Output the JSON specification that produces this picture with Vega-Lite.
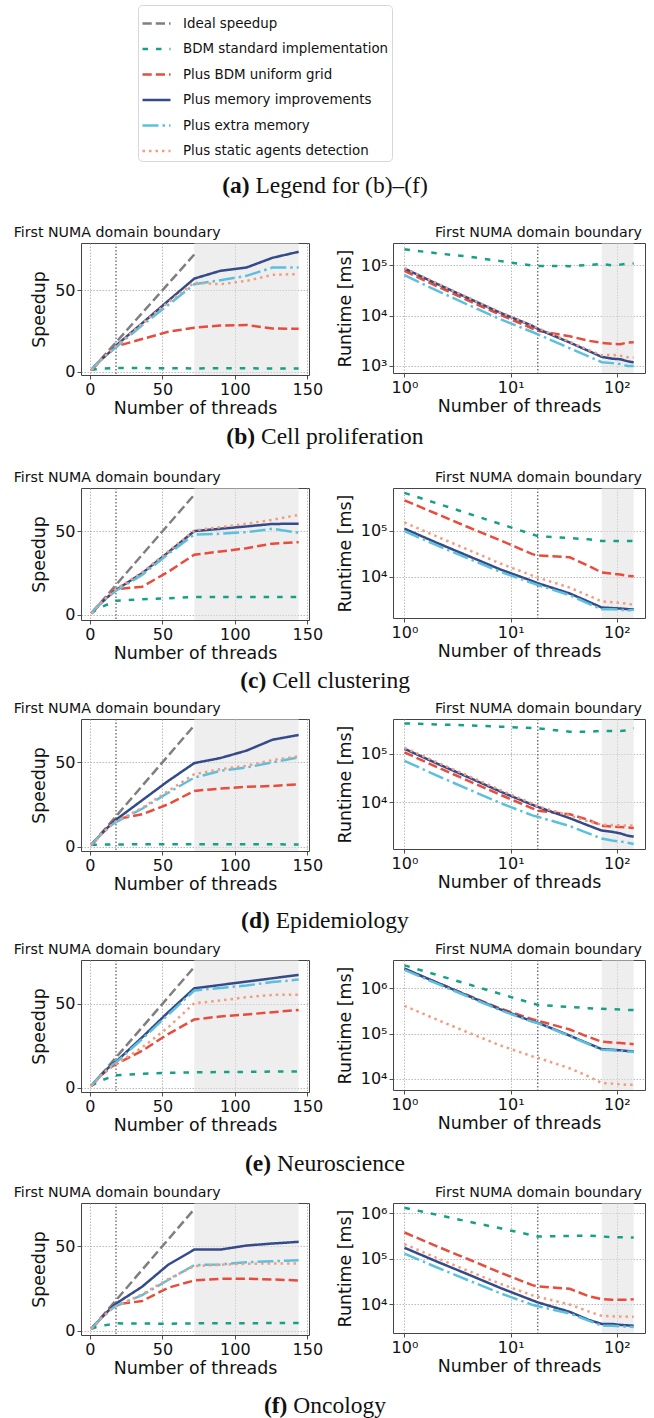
{
"$schema":"https://vega.github.io/schema/vega-lite/v6.json",
"padding":{"left":13,"top":0,"right":0,"bottom":0},
"config":{
 "font":"DejaVu Sans",
 "view":{"stroke":"#444","strokeWidth":1},
 "axis":{"labelFont":"DejaVu Sans","labelFontSize":16,"titleFont":"DejaVu Sans","titleFontSize":17.4,"titleFontWeight":"normal","labelColor":"#111","titleColor":"#111","tickColor":"#222","tickSize":4,"tickWidth":0.8,"domain":false,"grid":true,"gridColor":"#aaa","gridDash":[1.5,1.5],"gridWidth":0.8,"labelPadding":2,"titlePadding":2,"labelFlush":false,"labelOverlap":false},
 "axisY":{"titlePadding":6},
 "legend":{"labelFont":"DejaVu Sans","labelFontSize":13.4,"labelColor":"#111","padding":3,"rowPadding":3.5,"strokeColor":"#d8d8d8","fillColor":"white","cornerRadius":4,"labelOffset":11,"symbolStrokeWidth":2.5,"labelLimit":400},
 "title":{"font":"DejaVu Sans","fontSize":14.2,"fontWeight":"normal","offset":2,"color":"#111"}
},
"datasets":{"d":[
{"p":"all","s":"ideal","t":1,"sp":1},{"p":"all","s":"ideal","t":72,"sp":72},
{"p":"b","s":"std","t":1,"sp":1,"rt":210000},{"p":"b","s":"std","t":2,"sp":1.2,"rt":175000},{"p":"b","s":"std","t":4,"sp":1.4,"rt":150000},{"p":"b","s":"std","t":8,"sp":1.72,"rt":122000},{"p":"b","s":"std","t":16,"sp":2.1,"rt":100000},{"p":"b","s":"std","t":18,"sp":2.14,"rt":98000},{"p":"b","s":"std","t":36,"sp":2.16,"rt":97000},{"p":"b","s":"std","t":54,"sp":2.06,"rt":102000},{"p":"b","s":"std","t":72,"sp":1.94,"rt":108000},{"p":"b","s":"std","t":90,"sp":2.1,"rt":100000},{"p":"b","s":"std","t":108,"sp":2.02,"rt":104000},{"p":"b","s":"std","t":126,"sp":1.91,"rt":110000},{"p":"b","s":"std","t":144,"sp":1.91,"rt":110000},
{"p":"b","s":"grid","t":1,"sp":1,"rt":78000},{"p":"b","s":"grid","t":2,"sp":2,"rt":39000},{"p":"b","s":"grid","t":4,"sp":3.9,"rt":20000},{"p":"b","s":"grid","t":8,"sp":7.5,"rt":10400},{"p":"b","s":"grid","t":16,"sp":14,"rt":5570},{"p":"b","s":"grid","t":18,"sp":15.5,"rt":5030},{"p":"b","s":"grid","t":36,"sp":20,"rt":3900},{"p":"b","s":"grid","t":54,"sp":24.5,"rt":3180},{"p":"b","s":"grid","t":72,"sp":27,"rt":2890},{"p":"b","s":"grid","t":90,"sp":28.3,"rt":2760},{"p":"b","s":"grid","t":108,"sp":28.7,"rt":2720},{"p":"b","s":"grid","t":126,"sp":26.5,"rt":2940},{"p":"b","s":"grid","t":144,"sp":26.3,"rt":2970},
{"p":"b","s":"mem","t":1,"sp":1,"rt":87000},{"p":"b","s":"mem","t":2,"sp":2,"rt":43500},{"p":"b","s":"mem","t":4,"sp":3.9,"rt":22300},{"p":"b","s":"mem","t":8,"sp":7.6,"rt":11450},{"p":"b","s":"mem","t":16,"sp":13.8,"rt":6300},{"p":"b","s":"mem","t":18,"sp":16,"rt":5440},{"p":"b","s":"mem","t":36,"sp":29.7,"rt":2930},{"p":"b","s":"mem","t":54,"sp":43.5,"rt":2000},{"p":"b","s":"mem","t":72,"sp":57.2,"rt":1520},{"p":"b","s":"mem","t":90,"sp":62,"rt":1400},{"p":"b","s":"mem","t":108,"sp":64,"rt":1360},{"p":"b","s":"mem","t":126,"sp":70,"rt":1240},{"p":"b","s":"mem","t":144,"sp":73.7,"rt":1180},
{"p":"b","s":"extra","t":1,"sp":1,"rt":64000},{"p":"b","s":"extra","t":2,"sp":2,"rt":32000},{"p":"b","s":"extra","t":4,"sp":3.9,"rt":16400},{"p":"b","s":"extra","t":8,"sp":7.5,"rt":8530},{"p":"b","s":"extra","t":16,"sp":13.5,"rt":4740},{"p":"b","s":"extra","t":18,"sp":15,"rt":4270},{"p":"b","s":"extra","t":36,"sp":28.5,"rt":2250},{"p":"b","s":"extra","t":54,"sp":41,"rt":1560},{"p":"b","s":"extra","t":72,"sp":53.7,"rt":1190},{"p":"b","s":"extra","t":90,"sp":56.2,"rt":1140},{"p":"b","s":"extra","t":108,"sp":58.9,"rt":1090},{"p":"b","s":"extra","t":126,"sp":64,"rt":1000},{"p":"b","s":"extra","t":144,"sp":64,"rt":1000},
{"p":"b","s":"static","t":1,"sp":1,"rt":89000},{"p":"b","s":"static","t":2,"sp":2,"rt":44500},{"p":"b","s":"static","t":4,"sp":3.9,"rt":22800},{"p":"b","s":"static","t":8,"sp":7.6,"rt":11700},{"p":"b","s":"static","t":16,"sp":14,"rt":6360},{"p":"b","s":"static","t":18,"sp":15.6,"rt":5700},{"p":"b","s":"static","t":36,"sp":29.5,"rt":3020},{"p":"b","s":"static","t":54,"sp":42.5,"rt":2090},{"p":"b","s":"static","t":72,"sp":54.7,"rt":1630},{"p":"b","s":"static","t":90,"sp":53.7,"rt":1660},{"p":"b","s":"static","t":108,"sp":55.8,"rt":1590},{"p":"b","s":"static","t":126,"sp":59.5,"rt":1500},{"p":"b","s":"static","t":144,"sp":60,"rt":1480},
{"p":"c","s":"std","t":1,"sp":1,"rt":650000},{"p":"c","s":"std","t":2,"sp":1.67,"rt":390000},{"p":"c","s":"std","t":4,"sp":2.8,"rt":232000},{"p":"c","s":"std","t":8,"sp":4.7,"rt":139000},{"p":"c","s":"std","t":16,"sp":7.8,"rt":83000},{"p":"c","s":"std","t":18,"sp":8.55,"rt":76000},{"p":"c","s":"std","t":36,"sp":9.4,"rt":69000},{"p":"c","s":"std","t":54,"sp":10,"rt":65000},{"p":"c","s":"std","t":72,"sp":10.8,"rt":60000},{"p":"c","s":"std","t":90,"sp":10.8,"rt":60000},{"p":"c","s":"std","t":108,"sp":10.8,"rt":60000},{"p":"c","s":"std","t":126,"sp":10.8,"rt":60000},{"p":"c","s":"std","t":144,"sp":10.8,"rt":60000},
{"p":"c","s":"grid","t":1,"sp":1,"rt":450000},{"p":"c","s":"grid","t":2,"sp":1.95,"rt":231000},{"p":"c","s":"grid","t":4,"sp":3.8,"rt":118000},{"p":"c","s":"grid","t":8,"sp":7.3,"rt":61600},{"p":"c","s":"grid","t":16,"sp":14.5,"rt":31000},{"p":"c","s":"grid","t":18,"sp":15.5,"rt":29000},{"p":"c","s":"grid","t":36,"sp":16.9,"rt":26600},{"p":"c","s":"grid","t":54,"sp":25.8,"rt":17400},{"p":"c","s":"grid","t":72,"sp":36.1,"rt":12500},{"p":"c","s":"grid","t":90,"sp":38,"rt":11800},{"p":"c","s":"grid","t":108,"sp":40,"rt":11250},{"p":"c","s":"grid","t":126,"sp":42.7,"rt":10500},{"p":"c","s":"grid","t":144,"sp":43.6,"rt":10300},
{"p":"c","s":"mem","t":1,"sp":1,"rt":110000},{"p":"c","s":"mem","t":2,"sp":2,"rt":55000},{"p":"c","s":"mem","t":4,"sp":3.9,"rt":28200},{"p":"c","s":"mem","t":8,"sp":7.6,"rt":14500},{"p":"c","s":"mem","t":16,"sp":13.5,"rt":8150},{"p":"c","s":"mem","t":18,"sp":15,"rt":7330},{"p":"c","s":"mem","t":36,"sp":25,"rt":4400},{"p":"c","s":"mem","t":54,"sp":37.5,"rt":2930},{"p":"c","s":"mem","t":72,"sp":50.2,"rt":2190},{"p":"c","s":"mem","t":90,"sp":51.6,"rt":2130},{"p":"c","s":"mem","t":108,"sp":53,"rt":2080},{"p":"c","s":"mem","t":126,"sp":54.5,"rt":2020},{"p":"c","s":"mem","t":144,"sp":54.6,"rt":2010},
{"p":"c","s":"extra","t":1,"sp":1,"rt":97000},{"p":"c","s":"extra","t":2,"sp":2,"rt":48500},{"p":"c","s":"extra","t":4,"sp":3.9,"rt":24900},{"p":"c","s":"extra","t":8,"sp":7.5,"rt":12900},{"p":"c","s":"extra","t":16,"sp":13.2,"rt":7350},{"p":"c","s":"extra","t":18,"sp":14.5,"rt":6690},{"p":"c","s":"extra","t":36,"sp":24,"rt":4040},{"p":"c","s":"extra","t":54,"sp":36.5,"rt":2660},{"p":"c","s":"extra","t":72,"sp":48.2,"rt":2010},{"p":"c","s":"extra","t":90,"sp":48.6,"rt":2000},{"p":"c","s":"extra","t":108,"sp":49.6,"rt":1960},{"p":"c","s":"extra","t":126,"sp":51.6,"rt":1880},{"p":"c","s":"extra","t":144,"sp":49.2,"rt":1970},
{"p":"c","s":"static","t":1,"sp":1,"rt":150000},{"p":"c","s":"static","t":2,"sp":2,"rt":75000},{"p":"c","s":"static","t":4,"sp":3.9,"rt":38500},{"p":"c","s":"static","t":8,"sp":7.7,"rt":19500},{"p":"c","s":"static","t":16,"sp":14,"rt":10700},{"p":"c","s":"static","t":18,"sp":15.5,"rt":9680},{"p":"c","s":"static","t":36,"sp":25.5,"rt":5880},{"p":"c","s":"static","t":54,"sp":38,"rt":3950},{"p":"c","s":"static","t":72,"sp":50.6,"rt":2960},{"p":"c","s":"static","t":90,"sp":52.6,"rt":2850},{"p":"c","s":"static","t":108,"sp":54.6,"rt":2750},{"p":"c","s":"static","t":126,"sp":57,"rt":2630},{"p":"c","s":"static","t":144,"sp":59.9,"rt":2500},
{"p":"d","s":"std","t":1,"sp":1,"rt":430000},{"p":"d","s":"std","t":2,"sp":1.05,"rt":410000},{"p":"d","s":"std","t":4,"sp":1.1,"rt":390000},{"p":"d","s":"std","t":8,"sp":1.17,"rt":368000},{"p":"d","s":"std","t":16,"sp":1.25,"rt":344000},{"p":"d","s":"std","t":18,"sp":1.27,"rt":339000},{"p":"d","s":"std","t":36,"sp":1.48,"rt":290000},{"p":"d","s":"std","t":54,"sp":1.48,"rt":290000},{"p":"d","s":"std","t":72,"sp":1.43,"rt":300000},{"p":"d","s":"std","t":90,"sp":1.43,"rt":300000},{"p":"d","s":"std","t":108,"sp":1.43,"rt":300000},{"p":"d","s":"std","t":126,"sp":1.4,"rt":307000},{"p":"d","s":"std","t":144,"sp":1.26,"rt":340000},
{"p":"d","s":"grid","t":1,"sp":1,"rt":108000},{"p":"d","s":"grid","t":2,"sp":2,"rt":54000},{"p":"d","s":"grid","t":4,"sp":3.9,"rt":27700},{"p":"d","s":"grid","t":8,"sp":7.6,"rt":14200},{"p":"d","s":"grid","t":16,"sp":14.5,"rt":7450},{"p":"d","s":"grid","t":18,"sp":16.3,"rt":6630},{"p":"d","s":"grid","t":36,"sp":19.2,"rt":5630},{"p":"d","s":"grid","t":54,"sp":25.2,"rt":4290},{"p":"d","s":"grid","t":72,"sp":33.1,"rt":3260},{"p":"d","s":"grid","t":90,"sp":34.5,"rt":3130},{"p":"d","s":"grid","t":108,"sp":35.5,"rt":3040},{"p":"d","s":"grid","t":126,"sp":36,"rt":3000},{"p":"d","s":"grid","t":144,"sp":37,"rt":2920},
{"p":"d","s":"mem","t":1,"sp":1,"rt":128000},{"p":"d","s":"mem","t":2,"sp":2,"rt":64000},{"p":"d","s":"mem","t":4,"sp":3.9,"rt":32800},{"p":"d","s":"mem","t":8,"sp":7.7,"rt":16600},{"p":"d","s":"mem","t":16,"sp":14.5,"rt":8830},{"p":"d","s":"mem","t":18,"sp":16,"rt":8000},{"p":"d","s":"mem","t":36,"sp":27.5,"rt":4650},{"p":"d","s":"mem","t":54,"sp":39,"rt":3280},{"p":"d","s":"mem","t":72,"sp":49.6,"rt":2580},{"p":"d","s":"mem","t":90,"sp":52.6,"rt":2430},{"p":"d","s":"mem","t":108,"sp":57,"rt":2250},{"p":"d","s":"mem","t":126,"sp":63.5,"rt":2020},{"p":"d","s":"mem","t":144,"sp":66.3,"rt":1930},
{"p":"d","s":"extra","t":1,"sp":1,"rt":72000},{"p":"d","s":"extra","t":2,"sp":2,"rt":36000},{"p":"d","s":"extra","t":4,"sp":3.9,"rt":18500},{"p":"d","s":"extra","t":8,"sp":7.5,"rt":9600},{"p":"d","s":"extra","t":16,"sp":13.5,"rt":5330},{"p":"d","s":"extra","t":18,"sp":14.5,"rt":4970},{"p":"d","s":"extra","t":36,"sp":22.5,"rt":3200},{"p":"d","s":"extra","t":54,"sp":32,"rt":2250},{"p":"d","s":"extra","t":72,"sp":41,"rt":1760},{"p":"d","s":"extra","t":90,"sp":45,"rt":1600},{"p":"d","s":"extra","t":108,"sp":47,"rt":1530},{"p":"d","s":"extra","t":126,"sp":50,"rt":1440},{"p":"d","s":"extra","t":144,"sp":53,"rt":1360},
{"p":"d","s":"static","t":1,"sp":1,"rt":134000},{"p":"d","s":"static","t":2,"sp":2,"rt":68000},{"p":"d","s":"static","t":4,"sp":3.9,"rt":35000},{"p":"d","s":"static","t":8,"sp":7.6,"rt":17800},{"p":"d","s":"static","t":16,"sp":13.8,"rt":9300},{"p":"d","s":"static","t":18,"sp":15,"rt":8200},{"p":"d","s":"static","t":36,"sp":23,"rt":5300},{"p":"d","s":"static","t":54,"sp":33,"rt":4000},{"p":"d","s":"static","t":72,"sp":43,"rt":3400},{"p":"d","s":"static","t":90,"sp":46,"rt":3350},{"p":"d","s":"static","t":108,"sp":48,"rt":3300},{"p":"d","s":"static","t":126,"sp":51.4,"rt":3300},{"p":"d","s":"static","t":144,"sp":53.6,"rt":3300},
{"p":"e","s":"std","t":1,"sp":1,"rt":3200000},{"p":"e","s":"std","t":2,"sp":1.62,"rt":1980000},{"p":"e","s":"std","t":4,"sp":2.6,"rt":1220000},{"p":"e","s":"std","t":8,"sp":4.3,"rt":750000},{"p":"e","s":"std","t":16,"sp":6.9,"rt":466000},{"p":"e","s":"std","t":18,"sp":7.4,"rt":430000},{"p":"e","s":"std","t":36,"sp":8.3,"rt":386000},{"p":"e","s":"std","t":54,"sp":8.8,"rt":364000},{"p":"e","s":"std","t":72,"sp":9.1,"rt":352000},{"p":"e","s":"std","t":90,"sp":9.3,"rt":344000},{"p":"e","s":"std","t":108,"sp":9.4,"rt":340000},{"p":"e","s":"std","t":126,"sp":9.6,"rt":333000},{"p":"e","s":"std","t":144,"sp":9.7,"rt":330000},
{"p":"e","s":"grid","t":1,"sp":1,"rt":2700000},{"p":"e","s":"grid","t":2,"sp":2,"rt":1350000},{"p":"e","s":"grid","t":4,"sp":3.9,"rt":692000},{"p":"e","s":"grid","t":8,"sp":7.6,"rt":355000},{"p":"e","s":"grid","t":16,"sp":13,"rt":208000},{"p":"e","s":"grid","t":18,"sp":14,"rt":193000},{"p":"e","s":"grid","t":36,"sp":22,"rt":123000},{"p":"e","s":"grid","t":54,"sp":32,"rt":84400},{"p":"e","s":"grid","t":72,"sp":40.7,"rt":66300},{"p":"e","s":"grid","t":90,"sp":42.5,"rt":63500},{"p":"e","s":"grid","t":108,"sp":43.7,"rt":61800},{"p":"e","s":"grid","t":126,"sp":45,"rt":60000},{"p":"e","s":"grid","t":144,"sp":46.4,"rt":58200},
{"p":"e","s":"mem","t":1,"sp":1,"rt":2700000},{"p":"e","s":"mem","t":2,"sp":2,"rt":1350000},{"p":"e","s":"mem","t":4,"sp":4,"rt":675000},{"p":"e","s":"mem","t":8,"sp":7.9,"rt":342000},{"p":"e","s":"mem","t":16,"sp":14.5,"rt":186000},{"p":"e","s":"mem","t":18,"sp":15.5,"rt":174000},{"p":"e","s":"mem","t":36,"sp":30,"rt":90000},{"p":"e","s":"mem","t":54,"sp":45,"rt":60000},{"p":"e","s":"mem","t":72,"sp":59.3,"rt":45500},{"p":"e","s":"mem","t":90,"sp":61.3,"rt":44000},{"p":"e","s":"mem","t":108,"sp":63.3,"rt":42700},{"p":"e","s":"mem","t":126,"sp":65.3,"rt":41300},{"p":"e","s":"mem","t":144,"sp":67.3,"rt":40100},
{"p":"e","s":"extra","t":1,"sp":1,"rt":2550000},{"p":"e","s":"extra","t":2,"sp":2,"rt":1275000},{"p":"e","s":"extra","t":4,"sp":3.95,"rt":646000},{"p":"e","s":"extra","t":8,"sp":7.8,"rt":327000},{"p":"e","s":"extra","t":16,"sp":14,"rt":182000},{"p":"e","s":"extra","t":18,"sp":15,"rt":170000},{"p":"e","s":"extra","t":36,"sp":29,"rt":87900},{"p":"e","s":"extra","t":54,"sp":43.5,"rt":58600},{"p":"e","s":"extra","t":72,"sp":58,"rt":44000},{"p":"e","s":"extra","t":90,"sp":59.5,"rt":42900},{"p":"e","s":"extra","t":108,"sp":61,"rt":41800},{"p":"e","s":"extra","t":126,"sp":63,"rt":40500},{"p":"e","s":"extra","t":144,"sp":64.5,"rt":39500},
{"p":"e","s":"static","t":1,"sp":1,"rt":410000},{"p":"e","s":"static","t":2,"sp":2,"rt":205000},{"p":"e","s":"static","t":4,"sp":3.9,"rt":105000},{"p":"e","s":"static","t":8,"sp":7.5,"rt":54700},{"p":"e","s":"static","t":16,"sp":13,"rt":31500},{"p":"e","s":"static","t":18,"sp":14,"rt":29300},{"p":"e","s":"static","t":36,"sp":24,"rt":17100},{"p":"e","s":"static","t":54,"sp":36,"rt":11400},{"p":"e","s":"static","t":72,"sp":50.4,"rt":8130},{"p":"e","s":"static","t":90,"sp":52,"rt":7880},{"p":"e","s":"static","t":108,"sp":54,"rt":7590},{"p":"e","s":"static","t":126,"sp":55.4,"rt":7400},{"p":"e","s":"static","t":144,"sp":55.4,"rt":7400},
{"p":"f","s":"std","t":1,"sp":1,"rt":1330000},{"p":"f","s":"std","t":2,"sp":1.41,"rt":940000},{"p":"f","s":"std","t":4,"sp":2,"rt":660000},{"p":"f","s":"std","t":8,"sp":2.8,"rt":470000},{"p":"f","s":"std","t":16,"sp":4,"rt":330000},{"p":"f","s":"std","t":18,"sp":4.3,"rt":310000},{"p":"f","s":"std","t":36,"sp":4.2,"rt":318000},{"p":"f","s":"std","t":54,"sp":4.1,"rt":325000},{"p":"f","s":"std","t":72,"sp":4.3,"rt":310000},{"p":"f","s":"std","t":90,"sp":4.4,"rt":300000},{"p":"f","s":"std","t":108,"sp":4.4,"rt":300000},{"p":"f","s":"std","t":126,"sp":4.45,"rt":298000},{"p":"f","s":"std","t":144,"sp":4.5,"rt":295000},
{"p":"f","s":"grid","t":1,"sp":1,"rt":380000},{"p":"f","s":"grid","t":2,"sp":2,"rt":190000},{"p":"f","s":"grid","t":4,"sp":3.9,"rt":97400},{"p":"f","s":"grid","t":8,"sp":7.7,"rt":49400},{"p":"f","s":"grid","t":16,"sp":14.5,"rt":26200},{"p":"f","s":"grid","t":18,"sp":15.5,"rt":24500},{"p":"f","s":"grid","t":36,"sp":17.5,"rt":21700},{"p":"f","s":"grid","t":54,"sp":25.4,"rt":15000},{"p":"f","s":"grid","t":72,"sp":29.7,"rt":12800},{"p":"f","s":"grid","t":90,"sp":30.7,"rt":12400},{"p":"f","s":"grid","t":108,"sp":30.7,"rt":12400},{"p":"f","s":"grid","t":126,"sp":30.3,"rt":12500},{"p":"f","s":"grid","t":144,"sp":29.7,"rt":12800},
{"p":"f","s":"mem","t":1,"sp":1,"rt":175000},{"p":"f","s":"mem","t":2,"sp":2,"rt":87500},{"p":"f","s":"mem","t":4,"sp":3.9,"rt":44900},{"p":"f","s":"mem","t":8,"sp":7.7,"rt":22700},{"p":"f","s":"mem","t":16,"sp":14.5,"rt":12100},{"p":"f","s":"mem","t":18,"sp":16,"rt":10900},{"p":"f","s":"mem","t":36,"sp":26,"rt":6730},{"p":"f","s":"mem","t":54,"sp":39,"rt":4490},{"p":"f","s":"mem","t":72,"sp":48,"rt":3650},{"p":"f","s":"mem","t":90,"sp":48,"rt":3650},{"p":"f","s":"mem","t":108,"sp":50.4,"rt":3470},{"p":"f","s":"mem","t":126,"sp":51.6,"rt":3390},{"p":"f","s":"mem","t":144,"sp":52.6,"rt":3330},
{"p":"f","s":"extra","t":1,"sp":1,"rt":130000},{"p":"f","s":"extra","t":2,"sp":2,"rt":65000},{"p":"f","s":"extra","t":4,"sp":3.9,"rt":33300},{"p":"f","s":"extra","t":8,"sp":7.5,"rt":17300},{"p":"f","s":"extra","t":16,"sp":13.5,"rt":9630},{"p":"f","s":"extra","t":18,"sp":14.5,"rt":8970},{"p":"f","s":"extra","t":36,"sp":21,"rt":6190},{"p":"f","s":"extra","t":54,"sp":30,"rt":4330},{"p":"f","s":"extra","t":72,"sp":38.8,"rt":3350},{"p":"f","s":"extra","t":90,"sp":39.2,"rt":3320},{"p":"f","s":"extra","t":108,"sp":40.5,"rt":3210},{"p":"f","s":"extra","t":126,"sp":41.1,"rt":3160},{"p":"f","s":"extra","t":144,"sp":41.7,"rt":3120},
{"p":"f","s":"static","t":1,"sp":1,"rt":210000},{"p":"f","s":"static","t":2,"sp":2,"rt":105000},{"p":"f","s":"static","t":4,"sp":3.9,"rt":53800},{"p":"f","s":"static","t":8,"sp":7.5,"rt":28000},{"p":"f","s":"static","t":16,"sp":13.5,"rt":15600},{"p":"f","s":"static","t":18,"sp":14.5,"rt":14500},{"p":"f","s":"static","t":36,"sp":21.5,"rt":9770},{"p":"f","s":"static","t":54,"sp":30.5,"rt":6890},{"p":"f","s":"static","t":72,"sp":38.2,"rt":5500},{"p":"f","s":"static","t":90,"sp":39,"rt":5380},{"p":"f","s":"static","t":108,"sp":39.6,"rt":5300},{"p":"f","s":"static","t":126,"sp":39.8,"rt":5280},{"p":"f","s":"static","t":144,"sp":39.8,"rt":5280}
]},
"vconcat":[
 {"width":540,"height":225,"view":{"stroke":null},"data":{"values":[{}]},"layer":[
  {"mark":{"type":"text","text":"(a)","x":168.6,"y":186,"align":"right","baseline":"middle","font":"Liberation Serif","fontSize":23.5,"fontWeight":"bold","color":"#111"},"encoding":{}},
  {"mark":{"type":"text","text":"Legend for (b)–(f)","x":174.5,"y":186,"align":"left","baseline":"middle","font":"Liberation Serif","fontSize":23.5,"color":"#111"},"encoding":{}}
 ]},
 {"hconcat":[
  {"width":228,"height":132,"title":{"text":"First NUMA domain boundary","anchor":"start","dx":-17},"layer":[
   {"data":{"values":[{"a":72,"b":144}]},"mark":{"type":"rect","fill":"#e0e0e0","opacity":0.55},"encoding":{"x":{"field":"a","type":"quantitative","scale":{"domain":[-6.15,151.15],"nice":false,"zero":false},"axis":{"title":"Number of threads","values":[0,50,100,150]}},"x2":{"field":"b"}}},
   {"data":{"values":[{"a":18}]},"mark":{"type":"rule","stroke":"#555","strokeDash":[1.5,2],"strokeWidth":1.2},"encoding":{"x":{"field":"a","type":"quantitative","scale":{"domain":[-6.15,151.15],"nice":false,"zero":false},"axis":{"title":"Number of threads","values":[0,50,100,150]}}}},
   {"data":{"name":"d"},"transform":[{"filter":"datum.p=='b'||datum.p=='all'"}],"mark":{"type":"line","strokeWidth":2.5,"clip":true},"encoding":{
    "x":{"field":"t","type":"quantitative","scale":{"domain":[-6.15,151.15],"nice":false,"zero":false},"axis":{"title":"Number of threads","values":[0,50,100,150]}},
    "y":{"field":"sp","type":"quantitative","scale":{"domain":[-2.1,79.1],"nice":false,"zero":false},"axis":{"title":"Speedup","values":[0,50]}},
    "color":{"field":"s","type":"nominal","scale":{"domain":["ideal","std","grid","mem","extra","static"],"range":["#7f7f7f","#16a085","#e74c3c","#354a88","#5bc0de","#f39c7f"]},"legend":{"orient":"none","legendX":57,"legendY":5,"title":null,"symbolType":"stroke","symbolSize":784,"symbolStrokeWidth":2.5,"labelExpr":"datum.label=='ideal'?'Ideal speedup':datum.label=='std'?'BDM standard implementation':datum.label=='grid'?'Plus BDM uniform grid':datum.label=='mem'?'Plus memory improvements':datum.label=='extra'?'Plus extra memory':'Plus static agents detection'"}},
    "strokeDash":{"field":"s","type":"nominal","scale":{"domain":["ideal","std","grid","mem","extra","static"],"range":[[9.25,4],[5.5,8],[9.25,4],[1,0],[16,4,2.5,4],[2.5,4]]},"legend":{"orient":"none","legendX":57,"legendY":5,"title":null,"symbolType":"stroke","symbolSize":784,"symbolStrokeWidth":2.5,"labelExpr":"datum.label=='ideal'?'Ideal speedup':datum.label=='std'?'BDM standard implementation':datum.label=='grid'?'Plus BDM uniform grid':datum.label=='mem'?'Plus memory improvements':datum.label=='extra'?'Plus extra memory':'Plus static agents detection'"}}
   }}
  ]},
  {"width":252,"height":130,"title":{"text":"First NUMA domain boundary","anchor":"end","dx":-3},"layer":[
   {"data":{"values":[{"a":72,"b":144}]},"mark":{"type":"rect","fill":"#e0e0e0","opacity":0.55},"encoding":{"x":{"field":"a","type":"quantitative","scale":{"type":"log","domain":[0.78,184],"nice":false},"axis":{"title":"Number of threads","values":[1,10,100],"labelExpr":"'10' + (datum.value < 5 ? '⁰' : datum.value < 50 ? '¹' : '²')"}},"x2":{"field":"b"}}},
   {"data":{"values":[{"a":18}]},"mark":{"type":"rule","stroke":"#555","strokeDash":[1.5,2],"strokeWidth":1.2},"encoding":{"x":{"field":"a","type":"quantitative","scale":{"type":"log","domain":[0.78,184],"nice":false},"axis":{"title":"Number of threads","values":[1,10,100],"labelExpr":"'10' + (datum.value < 5 ? '⁰' : datum.value < 50 ? '¹' : '²')"}}}},
   {"data":{"name":"d"},"transform":[{"filter":"datum.p=='b'"}],"mark":{"type":"line","strokeWidth":2.5,"clip":true},"encoding":{
    "x":{"field":"t","type":"quantitative","scale":{"type":"log","domain":[0.78,184],"nice":false},"axis":{"title":"Number of threads","values":[1,10,100],"labelExpr":"'10' + (datum.value < 5 ? '⁰' : datum.value < 50 ? '¹' : '²')"}},
    "y":{"field":"rt","type":"quantitative","scale":{"type":"log","domain":[725,280000],"nice":false},"axis":{"title":"Runtime [ms]","values":[1000,10000,100000],"labelExpr":"'10' + (datum.value < 5000 ? '³' : datum.value < 50000 ? '⁴' : datum.value < 500000 ? '⁵' : '⁶')"}},
    "color":{"field":"s","type":"nominal","scale":{"domain":["ideal","std","grid","mem","extra","static"],"range":["#7f7f7f","#16a085","#e74c3c","#354a88","#5bc0de","#f39c7f"]},"legend":{"orient":"none","legendX":57,"legendY":5,"title":null,"symbolType":"stroke","symbolSize":784,"symbolStrokeWidth":2.5,"labelExpr":"datum.label=='ideal'?'Ideal speedup':datum.label=='std'?'BDM standard implementation':datum.label=='grid'?'Plus BDM uniform grid':datum.label=='mem'?'Plus memory improvements':datum.label=='extra'?'Plus extra memory':'Plus static agents detection'"}},
    "strokeDash":{"field":"s","type":"nominal","scale":{"domain":["ideal","std","grid","mem","extra","static"],"range":[[9.25,4],[5.5,8],[9.25,4],[1,0],[16,4,2.5,4],[2.5,4]]},"legend":{"orient":"none","legendX":57,"legendY":5,"title":null,"symbolType":"stroke","symbolSize":784,"symbolStrokeWidth":2.5,"labelExpr":"datum.label=='ideal'?'Ideal speedup':datum.label=='std'?'BDM standard implementation':datum.label=='grid'?'Plus BDM uniform grid':datum.label=='mem'?'Plus memory improvements':datum.label=='extra'?'Plus extra memory':'Plus static agents detection'"}}
   }}
  ]}
 ],"spacing":11},
 {"width":540,"height":53,"view":{"stroke":null},"data":{"values":[{}]},"layer":[
  {"mark":{"type":"text","text":"(b)","x":174.1,"y":20,"align":"right","baseline":"middle","font":"Liberation Serif","fontSize":23.5,"fontWeight":"bold","color":"#111"},"encoding":{}},
  {"mark":{"type":"text","text":"Cell proliferation","x":180,"y":20,"align":"left","baseline":"middle","font":"Liberation Serif","fontSize":23.5,"color":"#111"},"encoding":{}}
 ]},
 {"hconcat":[
  {"width":228,"height":132,"title":{"text":"First NUMA domain boundary","anchor":"start","dx":-17},"layer":[
   {"data":{"values":[{"a":72,"b":144}]},"mark":{"type":"rect","fill":"#e0e0e0","opacity":0.55},"encoding":{"x":{"field":"a","type":"quantitative","scale":{"domain":[-6.15,151.15],"nice":false,"zero":false},"axis":{"title":"Number of threads","values":[0,50,100,150]}},"x2":{"field":"b"}}},
   {"data":{"values":[{"a":18}]},"mark":{"type":"rule","stroke":"#555","strokeDash":[1.5,2],"strokeWidth":1.2},"encoding":{"x":{"field":"a","type":"quantitative","scale":{"domain":[-6.15,151.15],"nice":false,"zero":false},"axis":{"title":"Number of threads","values":[0,50,100,150]}}}},
   {"data":{"name":"d"},"transform":[{"filter":"datum.p=='c'||datum.p=='all'"}],"mark":{"type":"line","strokeWidth":2.5,"clip":true},"encoding":{
    "x":{"field":"t","type":"quantitative","scale":{"domain":[-6.15,151.15],"nice":false,"zero":false},"axis":{"title":"Number of threads","values":[0,50,100,150]}},
    "y":{"field":"sp","type":"quantitative","scale":{"domain":[-3,76],"nice":false,"zero":false},"axis":{"title":"Speedup","values":[0,50]}},
    "color":{"field":"s","type":"nominal","scale":{"domain":["ideal","std","grid","mem","extra","static"],"range":["#7f7f7f","#16a085","#e74c3c","#354a88","#5bc0de","#f39c7f"]},"legend":{"orient":"none","legendX":57,"legendY":5,"title":null,"symbolType":"stroke","symbolSize":784,"symbolStrokeWidth":2.5,"labelExpr":"datum.label=='ideal'?'Ideal speedup':datum.label=='std'?'BDM standard implementation':datum.label=='grid'?'Plus BDM uniform grid':datum.label=='mem'?'Plus memory improvements':datum.label=='extra'?'Plus extra memory':'Plus static agents detection'"}},
    "strokeDash":{"field":"s","type":"nominal","scale":{"domain":["ideal","std","grid","mem","extra","static"],"range":[[9.25,4],[5.5,8],[9.25,4],[1,0],[16,4,2.5,4],[2.5,4]]},"legend":{"orient":"none","legendX":57,"legendY":5,"title":null,"symbolType":"stroke","symbolSize":784,"symbolStrokeWidth":2.5,"labelExpr":"datum.label=='ideal'?'Ideal speedup':datum.label=='std'?'BDM standard implementation':datum.label=='grid'?'Plus BDM uniform grid':datum.label=='mem'?'Plus memory improvements':datum.label=='extra'?'Plus extra memory':'Plus static agents detection'"}}
   }}
  ]},
  {"width":252,"height":130,"title":{"text":"First NUMA domain boundary","anchor":"end","dx":-3},"layer":[
   {"data":{"values":[{"a":72,"b":144}]},"mark":{"type":"rect","fill":"#e0e0e0","opacity":0.55},"encoding":{"x":{"field":"a","type":"quantitative","scale":{"type":"log","domain":[0.78,184],"nice":false},"axis":{"title":"Number of threads","values":[1,10,100],"labelExpr":"'10' + (datum.value < 5 ? '⁰' : datum.value < 50 ? '¹' : '²')"}},"x2":{"field":"b"}}},
   {"data":{"values":[{"a":18}]},"mark":{"type":"rule","stroke":"#555","strokeDash":[1.5,2],"strokeWidth":1.2},"encoding":{"x":{"field":"a","type":"quantitative","scale":{"type":"log","domain":[0.78,184],"nice":false},"axis":{"title":"Number of threads","values":[1,10,100],"labelExpr":"'10' + (datum.value < 5 ? '⁰' : datum.value < 50 ? '¹' : '²')"}}}},
   {"data":{"name":"d"},"transform":[{"filter":"datum.p=='c'"}],"mark":{"type":"line","strokeWidth":2.5,"clip":true},"encoding":{
    "x":{"field":"t","type":"quantitative","scale":{"type":"log","domain":[0.78,184],"nice":false},"axis":{"title":"Number of threads","values":[1,10,100],"labelExpr":"'10' + (datum.value < 5 ? '⁰' : datum.value < 50 ? '¹' : '²')"}},
    "y":{"field":"rt","type":"quantitative","scale":{"type":"log","domain":[1300,830000],"nice":false},"axis":{"title":"Runtime [ms]","values":[10000,100000],"labelExpr":"'10' + (datum.value < 5000 ? '³' : datum.value < 50000 ? '⁴' : datum.value < 500000 ? '⁵' : '⁶')"}},
    "color":{"field":"s","type":"nominal","scale":{"domain":["ideal","std","grid","mem","extra","static"],"range":["#7f7f7f","#16a085","#e74c3c","#354a88","#5bc0de","#f39c7f"]},"legend":{"orient":"none","legendX":57,"legendY":5,"title":null,"symbolType":"stroke","symbolSize":784,"symbolStrokeWidth":2.5,"labelExpr":"datum.label=='ideal'?'Ideal speedup':datum.label=='std'?'BDM standard implementation':datum.label=='grid'?'Plus BDM uniform grid':datum.label=='mem'?'Plus memory improvements':datum.label=='extra'?'Plus extra memory':'Plus static agents detection'"}},
    "strokeDash":{"field":"s","type":"nominal","scale":{"domain":["ideal","std","grid","mem","extra","static"],"range":[[9.25,4],[5.5,8],[9.25,4],[1,0],[16,4,2.5,4],[2.5,4]]},"legend":{"orient":"none","legendX":57,"legendY":5,"title":null,"symbolType":"stroke","symbolSize":784,"symbolStrokeWidth":2.5,"labelExpr":"datum.label=='ideal'?'Ideal speedup':datum.label=='std'?'BDM standard implementation':datum.label=='grid'?'Plus BDM uniform grid':datum.label=='mem'?'Plus memory improvements':datum.label=='extra'?'Plus extra memory':'Plus static agents detection'"}}
   }}
  ]}
 ],"spacing":11},
 {"width":540,"height":39,"view":{"stroke":null},"data":{"values":[{}]},"layer":[
  {"mark":{"type":"text","text":"(c)","x":185.3,"y":19,"align":"right","baseline":"middle","font":"Liberation Serif","fontSize":23.5,"fontWeight":"bold","color":"#111"},"encoding":{}},
  {"mark":{"type":"text","text":"Cell clustering","x":191.2,"y":19,"align":"left","baseline":"middle","font":"Liberation Serif","fontSize":23.5,"color":"#111"},"encoding":{}}
 ]},
 {"hconcat":[
  {"width":228,"height":132,"title":{"text":"First NUMA domain boundary","anchor":"start","dx":-17},"layer":[
   {"data":{"values":[{"a":72,"b":144}]},"mark":{"type":"rect","fill":"#e0e0e0","opacity":0.55},"encoding":{"x":{"field":"a","type":"quantitative","scale":{"domain":[-6.15,151.15],"nice":false,"zero":false},"axis":{"title":"Number of threads","values":[0,50,100,150]}},"x2":{"field":"b"}}},
   {"data":{"values":[{"a":18}]},"mark":{"type":"rule","stroke":"#555","strokeDash":[1.5,2],"strokeWidth":1.2},"encoding":{"x":{"field":"a","type":"quantitative","scale":{"domain":[-6.15,151.15],"nice":false,"zero":false},"axis":{"title":"Number of threads","values":[0,50,100,150]}}}},
   {"data":{"name":"d"},"transform":[{"filter":"datum.p=='d'||datum.p=='all'"}],"mark":{"type":"line","strokeWidth":2.5,"clip":true},"encoding":{
    "x":{"field":"t","type":"quantitative","scale":{"domain":[-6.15,151.15],"nice":false,"zero":false},"axis":{"title":"Number of threads","values":[0,50,100,150]}},
    "y":{"field":"sp","type":"quantitative","scale":{"domain":[-2.6,75.8],"nice":false,"zero":false},"axis":{"title":"Speedup","values":[0,50]}},
    "color":{"field":"s","type":"nominal","scale":{"domain":["ideal","std","grid","mem","extra","static"],"range":["#7f7f7f","#16a085","#e74c3c","#354a88","#5bc0de","#f39c7f"]},"legend":{"orient":"none","legendX":57,"legendY":5,"title":null,"symbolType":"stroke","symbolSize":784,"symbolStrokeWidth":2.5,"labelExpr":"datum.label=='ideal'?'Ideal speedup':datum.label=='std'?'BDM standard implementation':datum.label=='grid'?'Plus BDM uniform grid':datum.label=='mem'?'Plus memory improvements':datum.label=='extra'?'Plus extra memory':'Plus static agents detection'"}},
    "strokeDash":{"field":"s","type":"nominal","scale":{"domain":["ideal","std","grid","mem","extra","static"],"range":[[9.25,4],[5.5,8],[9.25,4],[1,0],[16,4,2.5,4],[2.5,4]]},"legend":{"orient":"none","legendX":57,"legendY":5,"title":null,"symbolType":"stroke","symbolSize":784,"symbolStrokeWidth":2.5,"labelExpr":"datum.label=='ideal'?'Ideal speedup':datum.label=='std'?'BDM standard implementation':datum.label=='grid'?'Plus BDM uniform grid':datum.label=='mem'?'Plus memory improvements':datum.label=='extra'?'Plus extra memory':'Plus static agents detection'"}}
   }}
  ]},
  {"width":252,"height":130,"title":{"text":"First NUMA domain boundary","anchor":"end","dx":-3},"layer":[
   {"data":{"values":[{"a":72,"b":144}]},"mark":{"type":"rect","fill":"#e0e0e0","opacity":0.55},"encoding":{"x":{"field":"a","type":"quantitative","scale":{"type":"log","domain":[0.78,184],"nice":false},"axis":{"title":"Number of threads","values":[1,10,100],"labelExpr":"'10' + (datum.value < 5 ? '⁰' : datum.value < 50 ? '¹' : '²')"}},"x2":{"field":"b"}}},
   {"data":{"values":[{"a":18}]},"mark":{"type":"rule","stroke":"#555","strokeDash":[1.5,2],"strokeWidth":1.2},"encoding":{"x":{"field":"a","type":"quantitative","scale":{"type":"log","domain":[0.78,184],"nice":false},"axis":{"title":"Number of threads","values":[1,10,100],"labelExpr":"'10' + (datum.value < 5 ? '⁰' : datum.value < 50 ? '¹' : '²')"}}}},
   {"data":{"name":"d"},"transform":[{"filter":"datum.p=='d'"}],"mark":{"type":"line","strokeWidth":2.5,"clip":true},"encoding":{
    "x":{"field":"t","type":"quantitative","scale":{"type":"log","domain":[0.78,184],"nice":false},"axis":{"title":"Number of threads","values":[1,10,100],"labelExpr":"'10' + (datum.value < 5 ? '⁰' : datum.value < 50 ? '¹' : '²')"}},
    "y":{"field":"rt","type":"quantitative","scale":{"type":"log","domain":[1070,530000],"nice":false},"axis":{"title":"Runtime [ms]","values":[10000,100000],"labelExpr":"'10' + (datum.value < 5000 ? '³' : datum.value < 50000 ? '⁴' : datum.value < 500000 ? '⁵' : '⁶')"}},
    "color":{"field":"s","type":"nominal","scale":{"domain":["ideal","std","grid","mem","extra","static"],"range":["#7f7f7f","#16a085","#e74c3c","#354a88","#5bc0de","#f39c7f"]},"legend":{"orient":"none","legendX":57,"legendY":5,"title":null,"symbolType":"stroke","symbolSize":784,"symbolStrokeWidth":2.5,"labelExpr":"datum.label=='ideal'?'Ideal speedup':datum.label=='std'?'BDM standard implementation':datum.label=='grid'?'Plus BDM uniform grid':datum.label=='mem'?'Plus memory improvements':datum.label=='extra'?'Plus extra memory':'Plus static agents detection'"}},
    "strokeDash":{"field":"s","type":"nominal","scale":{"domain":["ideal","std","grid","mem","extra","static"],"range":[[9.25,4],[5.5,8],[9.25,4],[1,0],[16,4,2.5,4],[2.5,4]]},"legend":{"orient":"none","legendX":57,"legendY":5,"title":null,"symbolType":"stroke","symbolSize":784,"symbolStrokeWidth":2.5,"labelExpr":"datum.label=='ideal'?'Ideal speedup':datum.label=='std'?'BDM standard implementation':datum.label=='grid'?'Plus BDM uniform grid':datum.label=='mem'?'Plus memory improvements':datum.label=='extra'?'Plus extra memory':'Plus static agents detection'"}}
   }}
  ]}
 ],"spacing":11},
 {"width":540,"height":49,"view":{"stroke":null},"data":{"values":[{}]},"layer":[
  {"mark":{"type":"text","text":"(d)","x":188.8,"y":28,"align":"right","baseline":"middle","font":"Liberation Serif","fontSize":23.5,"fontWeight":"bold","color":"#111"},"encoding":{}},
  {"mark":{"type":"text","text":"Epidemiology","x":194.7,"y":28,"align":"left","baseline":"middle","font":"Liberation Serif","fontSize":23.5,"color":"#111"},"encoding":{}}
 ]},
 {"hconcat":[
  {"width":228,"height":132,"title":{"text":"First NUMA domain boundary","anchor":"start","dx":-17},"layer":[
   {"data":{"values":[{"a":72,"b":144}]},"mark":{"type":"rect","fill":"#e0e0e0","opacity":0.55},"encoding":{"x":{"field":"a","type":"quantitative","scale":{"domain":[-6.15,151.15],"nice":false,"zero":false},"axis":{"title":"Number of threads","values":[0,50,100,150]}},"x2":{"field":"b"}}},
   {"data":{"values":[{"a":18}]},"mark":{"type":"rule","stroke":"#555","strokeDash":[1.5,2],"strokeWidth":1.2},"encoding":{"x":{"field":"a","type":"quantitative","scale":{"domain":[-6.15,151.15],"nice":false,"zero":false},"axis":{"title":"Number of threads","values":[0,50,100,150]}}}},
   {"data":{"name":"d"},"transform":[{"filter":"datum.p=='e'||datum.p=='all'"}],"mark":{"type":"line","strokeWidth":2.5,"clip":true},"encoding":{
    "x":{"field":"t","type":"quantitative","scale":{"domain":[-6.15,151.15],"nice":false,"zero":false},"axis":{"title":"Number of threads","values":[0,50,100,150]}},
    "y":{"field":"sp","type":"quantitative","scale":{"domain":[-2.6,76.2],"nice":false,"zero":false},"axis":{"title":"Speedup","values":[0,50]}},
    "color":{"field":"s","type":"nominal","scale":{"domain":["ideal","std","grid","mem","extra","static"],"range":["#7f7f7f","#16a085","#e74c3c","#354a88","#5bc0de","#f39c7f"]},"legend":{"orient":"none","legendX":57,"legendY":5,"title":null,"symbolType":"stroke","symbolSize":784,"symbolStrokeWidth":2.5,"labelExpr":"datum.label=='ideal'?'Ideal speedup':datum.label=='std'?'BDM standard implementation':datum.label=='grid'?'Plus BDM uniform grid':datum.label=='mem'?'Plus memory improvements':datum.label=='extra'?'Plus extra memory':'Plus static agents detection'"}},
    "strokeDash":{"field":"s","type":"nominal","scale":{"domain":["ideal","std","grid","mem","extra","static"],"range":[[9.25,4],[5.5,8],[9.25,4],[1,0],[16,4,2.5,4],[2.5,4]]},"legend":{"orient":"none","legendX":57,"legendY":5,"title":null,"symbolType":"stroke","symbolSize":784,"symbolStrokeWidth":2.5,"labelExpr":"datum.label=='ideal'?'Ideal speedup':datum.label=='std'?'BDM standard implementation':datum.label=='grid'?'Plus BDM uniform grid':datum.label=='mem'?'Plus memory improvements':datum.label=='extra'?'Plus extra memory':'Plus static agents detection'"}}
   }}
  ]},
  {"width":252,"height":130,"title":{"text":"First NUMA domain boundary","anchor":"end","dx":-3},"layer":[
   {"data":{"values":[{"a":72,"b":144}]},"mark":{"type":"rect","fill":"#e0e0e0","opacity":0.55},"encoding":{"x":{"field":"a","type":"quantitative","scale":{"type":"log","domain":[0.78,184],"nice":false},"axis":{"title":"Number of threads","values":[1,10,100],"labelExpr":"'10' + (datum.value < 5 ? '⁰' : datum.value < 50 ? '¹' : '²')"}},"x2":{"field":"b"}}},
   {"data":{"values":[{"a":18}]},"mark":{"type":"rule","stroke":"#555","strokeDash":[1.5,2],"strokeWidth":1.2},"encoding":{"x":{"field":"a","type":"quantitative","scale":{"type":"log","domain":[0.78,184],"nice":false},"axis":{"title":"Number of threads","values":[1,10,100],"labelExpr":"'10' + (datum.value < 5 ? '⁰' : datum.value < 50 ? '¹' : '²')"}}}},
   {"data":{"name":"d"},"transform":[{"filter":"datum.p=='e'"}],"mark":{"type":"line","strokeWidth":2.5,"clip":true},"encoding":{
    "x":{"field":"t","type":"quantitative","scale":{"type":"log","domain":[0.78,184],"nice":false},"axis":{"title":"Number of threads","values":[1,10,100],"labelExpr":"'10' + (datum.value < 5 ? '⁰' : datum.value < 50 ? '¹' : '²')"}},
    "y":{"field":"rt","type":"quantitative","scale":{"type":"log","domain":[5700,4200000],"nice":false},"axis":{"title":"Runtime [ms]","values":[10000,100000,1000000],"labelExpr":"'10' + (datum.value < 5000 ? '³' : datum.value < 50000 ? '⁴' : datum.value < 500000 ? '⁵' : '⁶')"}},
    "color":{"field":"s","type":"nominal","scale":{"domain":["ideal","std","grid","mem","extra","static"],"range":["#7f7f7f","#16a085","#e74c3c","#354a88","#5bc0de","#f39c7f"]},"legend":{"orient":"none","legendX":57,"legendY":5,"title":null,"symbolType":"stroke","symbolSize":784,"symbolStrokeWidth":2.5,"labelExpr":"datum.label=='ideal'?'Ideal speedup':datum.label=='std'?'BDM standard implementation':datum.label=='grid'?'Plus BDM uniform grid':datum.label=='mem'?'Plus memory improvements':datum.label=='extra'?'Plus extra memory':'Plus static agents detection'"}},
    "strokeDash":{"field":"s","type":"nominal","scale":{"domain":["ideal","std","grid","mem","extra","static"],"range":[[9.25,4],[5.5,8],[9.25,4],[1,0],[16,4,2.5,4],[2.5,4]]},"legend":{"orient":"none","legendX":57,"legendY":5,"title":null,"symbolType":"stroke","symbolSize":784,"symbolStrokeWidth":2.5,"labelExpr":"datum.label=='ideal'?'Ideal speedup':datum.label=='std'?'BDM standard implementation':datum.label=='grid'?'Plus BDM uniform grid':datum.label=='mem'?'Plus memory improvements':datum.label=='extra'?'Plus extra memory':'Plus static agents detection'"}}
   }}
  ]}
 ],"spacing":11},
 {"width":540,"height":51,"view":{"stroke":null},"data":{"values":[{}]},"layer":[
  {"mark":{"type":"text","text":"(e)","x":190.1,"y":30,"align":"right","baseline":"middle","font":"Liberation Serif","fontSize":23.5,"fontWeight":"bold","color":"#111"},"encoding":{}},
  {"mark":{"type":"text","text":"Neuroscience","x":196,"y":30,"align":"left","baseline":"middle","font":"Liberation Serif","fontSize":23.5,"color":"#111"},"encoding":{}}
 ]},
 {"hconcat":[
  {"width":228,"height":132,"title":{"text":"First NUMA domain boundary","anchor":"start","dx":-17},"layer":[
   {"data":{"values":[{"a":72,"b":144}]},"mark":{"type":"rect","fill":"#e0e0e0","opacity":0.55},"encoding":{"x":{"field":"a","type":"quantitative","scale":{"domain":[-6.15,151.15],"nice":false,"zero":false},"axis":{"title":"Number of threads","values":[0,50,100,150]}},"x2":{"field":"b"}}},
   {"data":{"values":[{"a":18}]},"mark":{"type":"rule","stroke":"#555","strokeDash":[1.5,2],"strokeWidth":1.2},"encoding":{"x":{"field":"a","type":"quantitative","scale":{"domain":[-6.15,151.15],"nice":false,"zero":false},"axis":{"title":"Number of threads","values":[0,50,100,150]}}}},
   {"data":{"name":"d"},"transform":[{"filter":"datum.p=='f'||datum.p=='all'"}],"mark":{"type":"line","strokeWidth":2.5,"clip":true},"encoding":{
    "x":{"field":"t","type":"quantitative","scale":{"domain":[-6.15,151.15],"nice":false,"zero":false},"axis":{"title":"Number of threads","values":[0,50,100,150]}},
    "y":{"field":"sp","type":"quantitative","scale":{"domain":[-2.6,75.6],"nice":false,"zero":false},"axis":{"title":"Speedup","values":[0,50]}},
    "color":{"field":"s","type":"nominal","scale":{"domain":["ideal","std","grid","mem","extra","static"],"range":["#7f7f7f","#16a085","#e74c3c","#354a88","#5bc0de","#f39c7f"]},"legend":{"orient":"none","legendX":57,"legendY":5,"title":null,"symbolType":"stroke","symbolSize":784,"symbolStrokeWidth":2.5,"labelExpr":"datum.label=='ideal'?'Ideal speedup':datum.label=='std'?'BDM standard implementation':datum.label=='grid'?'Plus BDM uniform grid':datum.label=='mem'?'Plus memory improvements':datum.label=='extra'?'Plus extra memory':'Plus static agents detection'"}},
    "strokeDash":{"field":"s","type":"nominal","scale":{"domain":["ideal","std","grid","mem","extra","static"],"range":[[9.25,4],[5.5,8],[9.25,4],[1,0],[16,4,2.5,4],[2.5,4]]},"legend":{"orient":"none","legendX":57,"legendY":5,"title":null,"symbolType":"stroke","symbolSize":784,"symbolStrokeWidth":2.5,"labelExpr":"datum.label=='ideal'?'Ideal speedup':datum.label=='std'?'BDM standard implementation':datum.label=='grid'?'Plus BDM uniform grid':datum.label=='mem'?'Plus memory improvements':datum.label=='extra'?'Plus extra memory':'Plus static agents detection'"}}
   }}
  ]},
  {"width":252,"height":130,"title":{"text":"First NUMA domain boundary","anchor":"end","dx":-3},"layer":[
   {"data":{"values":[{"a":72,"b":144}]},"mark":{"type":"rect","fill":"#e0e0e0","opacity":0.55},"encoding":{"x":{"field":"a","type":"quantitative","scale":{"type":"log","domain":[0.78,184],"nice":false},"axis":{"title":"Number of threads","values":[1,10,100],"labelExpr":"'10' + (datum.value < 5 ? '⁰' : datum.value < 50 ? '¹' : '²')"}},"x2":{"field":"b"}}},
   {"data":{"values":[{"a":18}]},"mark":{"type":"rule","stroke":"#555","strokeDash":[1.5,2],"strokeWidth":1.2},"encoding":{"x":{"field":"a","type":"quantitative","scale":{"type":"log","domain":[0.78,184],"nice":false},"axis":{"title":"Number of threads","values":[1,10,100],"labelExpr":"'10' + (datum.value < 5 ? '⁰' : datum.value < 50 ? '¹' : '²')"}}}},
   {"data":{"name":"d"},"transform":[{"filter":"datum.p=='f'"}],"mark":{"type":"line","strokeWidth":2.5,"clip":true},"encoding":{
    "x":{"field":"t","type":"quantitative","scale":{"type":"log","domain":[0.78,184],"nice":false},"axis":{"title":"Number of threads","values":[1,10,100],"labelExpr":"'10' + (datum.value < 5 ? '⁰' : datum.value < 50 ? '¹' : '²')"}},
    "y":{"field":"rt","type":"quantitative","scale":{"type":"log","domain":[2300,1700000],"nice":false},"axis":{"title":"Runtime [ms]","values":[10000,100000,1000000],"labelExpr":"'10' + (datum.value < 5000 ? '³' : datum.value < 50000 ? '⁴' : datum.value < 500000 ? '⁵' : '⁶')"}},
    "color":{"field":"s","type":"nominal","scale":{"domain":["ideal","std","grid","mem","extra","static"],"range":["#7f7f7f","#16a085","#e74c3c","#354a88","#5bc0de","#f39c7f"]},"legend":{"orient":"none","legendX":57,"legendY":5,"title":null,"symbolType":"stroke","symbolSize":784,"symbolStrokeWidth":2.5,"labelExpr":"datum.label=='ideal'?'Ideal speedup':datum.label=='std'?'BDM standard implementation':datum.label=='grid'?'Plus BDM uniform grid':datum.label=='mem'?'Plus memory improvements':datum.label=='extra'?'Plus extra memory':'Plus static agents detection'"}},
    "strokeDash":{"field":"s","type":"nominal","scale":{"domain":["ideal","std","grid","mem","extra","static"],"range":[[9.25,4],[5.5,8],[9.25,4],[1,0],[16,4,2.5,4],[2.5,4]]},"legend":{"orient":"none","legendX":57,"legendY":5,"title":null,"symbolType":"stroke","symbolSize":784,"symbolStrokeWidth":2.5,"labelExpr":"datum.label=='ideal'?'Ideal speedup':datum.label=='std'?'BDM standard implementation':datum.label=='grid'?'Plus BDM uniform grid':datum.label=='mem'?'Plus memory improvements':datum.label=='extra'?'Plus extra memory':'Plus static agents detection'"}}
   }}
  ]}
 ],"spacing":11},
 {"width":540,"height":40,"view":{"stroke":null},"data":{"values":[{}]},"layer":[
  {"mark":{"type":"text","text":"(f)","x":206.4,"y":29,"align":"right","baseline":"middle","font":"Liberation Serif","fontSize":23.5,"fontWeight":"bold","color":"#111"},"encoding":{}},
  {"mark":{"type":"text","text":"Oncology","x":212.3,"y":29,"align":"left","baseline":"middle","font":"Liberation Serif","fontSize":23.5,"color":"#111"},"encoding":{}}
 ]}
],
"spacing":0
}
